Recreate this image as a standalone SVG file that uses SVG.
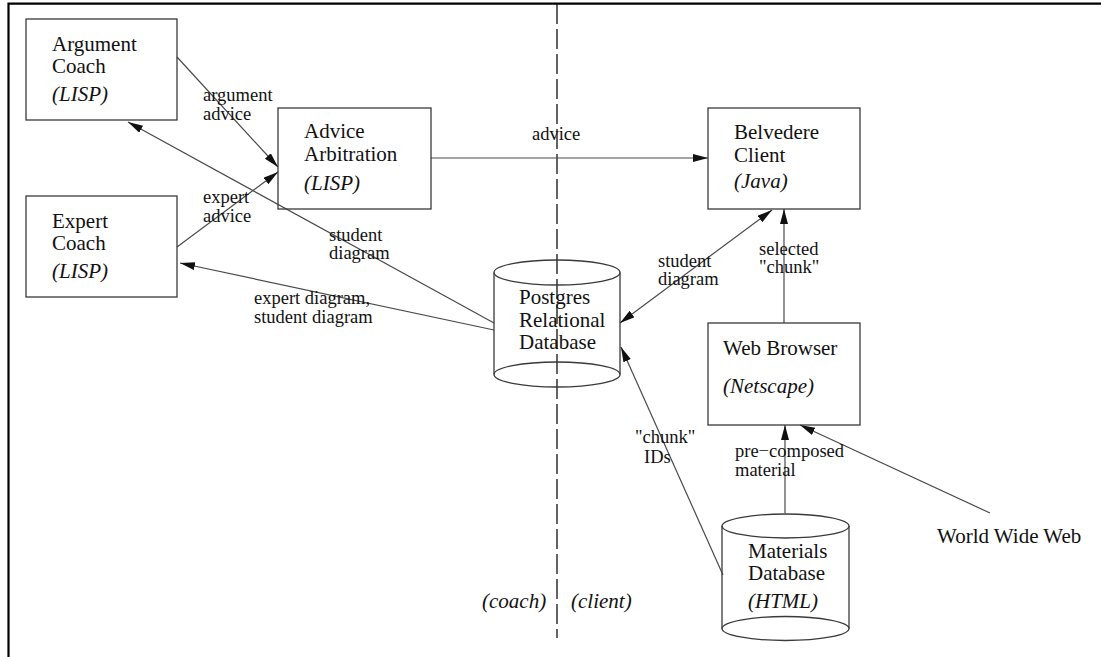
<svg xmlns="http://www.w3.org/2000/svg" width="1101" height="657" viewBox="0 0 1101 657">
<style>
  .box{fill:none;stroke:#3a3a3a;stroke-width:1.3}
  .t{font-family:"Liberation Serif","Times New Roman",serif;font-size:21px;fill:#111}
  .i{font-style:italic}
  .l{font-family:"Liberation Serif","Times New Roman",serif;font-size:18.5px;fill:#111}
  .c{fill:none;stroke:#4a4a4a;stroke-width:1.2}
</style>
<defs>
  <marker id="ah" markerUnits="userSpaceOnUse" markerWidth="16" markerHeight="10" refX="15" refY="4" orient="auto-start-reverse">
    <path d="M0,0 L15,4 L0,8 z" fill="#111"/>
  </marker>
</defs>
<rect width="1101" height="657" fill="#fff"/>
<g id="frame">
  <path d="M8.5,657 L8.5,3.7 L1101,3.7" fill="none" stroke="#000" stroke-width="2.2"/>
  <line x1="557" y1="4" x2="557" y2="638" stroke="#111" stroke-width="1.3" stroke-dasharray="20,5"/>
</g>
<g id="connectors">
  <line class="c" x1="177" y1="57" x2="278" y2="167" marker-end="url(#ah)"/>
  <line class="c" x1="177" y1="247" x2="278" y2="172" marker-end="url(#ah)"/>
  <line class="c" x1="431" y1="158" x2="708" y2="158" marker-end="url(#ah)"/>
  <line class="c" x1="494" y1="323" x2="128" y2="122" marker-end="url(#ah)"/>
  <line class="c" x1="494" y1="330" x2="180" y2="263" marker-end="url(#ah)"/>
  <line class="c" x1="620" y1="323" x2="772" y2="210" marker-start="url(#ah)" marker-end="url(#ah)"/>
  <line class="c" x1="784" y1="323" x2="784" y2="209" marker-end="url(#ah)"/>
  <line class="c" x1="785" y1="513" x2="785" y2="425" marker-end="url(#ah)"/>
  <line class="c" x1="990" y1="513" x2="800" y2="425" marker-end="url(#ah)"/>
  <line class="c" x1="723" y1="575" x2="621" y2="347" marker-end="url(#ah)"/>
  <text class="l" x="203" y="101">argument</text>
  <text class="l" x="203" y="120">advice</text>
  <text class="l" x="203" y="203">expert</text>
  <text class="l" x="203" y="222">advice</text>
  <text class="l" x="329" y="241">student</text>
  <text class="l" x="329" y="259">diagram</text>
  <text class="l" x="254" y="304">expert diagram,</text>
  <text class="l" x="254" y="323">student diagram</text>
  <text class="l" x="532" y="140">advice</text>
  <text class="l" x="658" y="267">student</text>
  <text class="l" x="658" y="285">diagram</text>
  <text class="l" x="759" y="255">selected</text>
  <text class="l" x="759" y="273">"chunk"</text>
  <text class="l" x="735" y="457">pre−composed</text>
  <text class="l" x="735" y="476">material</text>
  <text class="l" x="635" y="443">"chunk"</text>
  <text class="l" x="644" y="463">IDs</text>
</g>
<g id="argument-coach">
  <rect class="box" x="26" y="19" width="151" height="101"/>
  <text class="t" x="52" y="51">Argument</text>
  <text class="t" x="52" y="73">Coach</text>
  <text class="t i" x="52" y="101">(LISP)</text>
</g>
<g id="expert-coach">
  <rect class="box" x="26" y="196" width="151" height="101"/>
  <text class="t" x="52" y="228">Expert</text>
  <text class="t" x="52" y="250">Coach</text>
  <text class="t i" x="52" y="278">(LISP)</text>
</g>
<g id="advice-arbitration">
  <rect class="box" x="278" y="108" width="153" height="101"/>
  <text class="t" x="304" y="138">Advice</text>
  <text class="t" x="304" y="161">Arbitration</text>
  <text class="t i" x="304" y="190">(LISP)</text>
</g>
<g id="belvedere-client">
  <rect class="box" x="708" y="108" width="152" height="101"/>
  <text class="t" x="734" y="139">Belvedere</text>
  <text class="t" x="734" y="162">Client</text>
  <text class="t i" x="734" y="188">(Java)</text>
</g>
<g id="web-browser">
  <rect class="box" x="708" y="323" width="152" height="102"/>
  <text class="t" x="723" y="355">Web Browser</text>
  <text class="t i" x="723" y="393">(Netscape)</text>
</g>
<g id="postgres">
  <path class="box" d="M494,272.5 L494,374.5 M620,272.5 L620,374.5"/>
  <ellipse class="box" cx="557" cy="272.5" rx="63" ry="12.5"/>
  <ellipse class="box" cx="557" cy="374.5" rx="63" ry="12.5"/>
  <text class="t" x="519" y="304">Postgres</text>
  <text class="t" x="519" y="327">Relational</text>
  <text class="t" x="519" y="349">Database</text>
</g>
<g id="materials">
  <path class="box" d="M722,526 L722,628.5 M849,526 L849,628.5"/>
  <ellipse class="box" cx="785.5" cy="526" rx="63.5" ry="12"/>
  <ellipse class="box" cx="785.5" cy="628.5" rx="63.5" ry="12"/>
  <text class="t" x="748" y="558">Materials</text>
  <text class="t" x="748" y="580">Database</text>
  <text class="t i" x="748" y="608">(HTML)</text>
</g>
<g id="www">
  <text class="t" x="937" y="543">World Wide Web</text>
</g>
<g id="sides">
  <text class="t i" x="482" y="608">(coach)</text>
  <text class="t i" x="571" y="608">(client)</text>
</g>
</svg>
